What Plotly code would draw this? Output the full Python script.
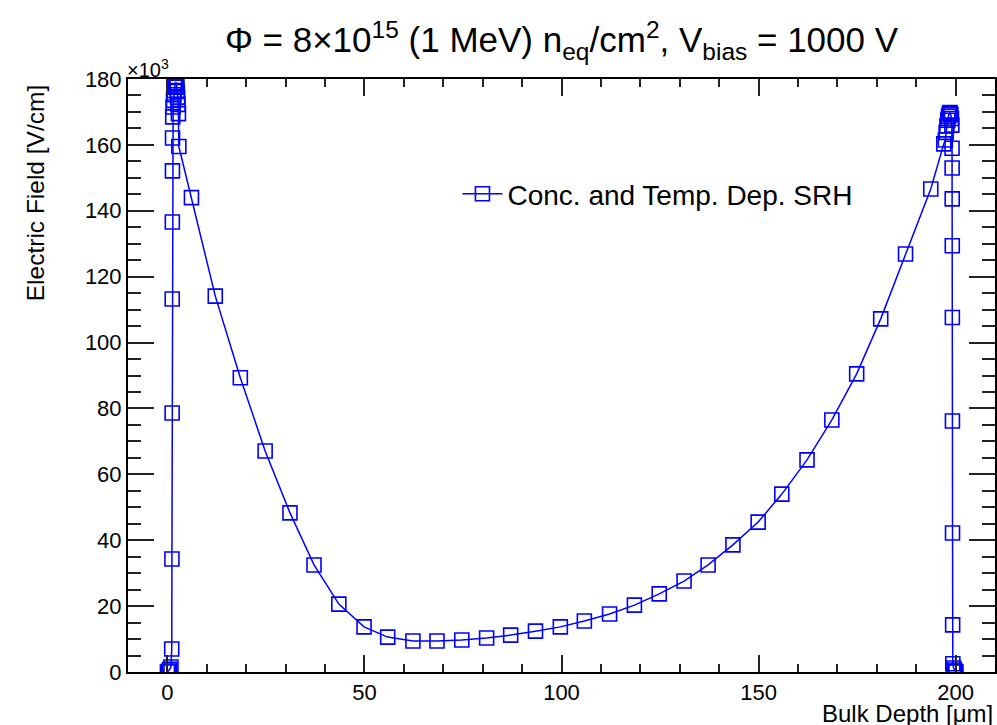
import plotly.graph_objects as go

# Bulk depth [um]
depth = [0.0, 0.3, 0.6, 0.9, 1.1, 1.15, 1.2, 1.22, 1.25, 1.28, 1.3, 1.35,
         1.45, 1.55, 1.65, 1.75, 1.85, 1.95, 2.05, 2.15, 2.3, 2.4, 2.5, 2.6, 2.7, 2.8, 2.9,
         6.1, 12.15, 18.5, 24.8, 31.1, 37.2, 43.5, 49.9, 55.9, 62.3, 68.4, 74.7, 81.0,
         87.1, 93.4, 99.7, 105.8, 112.2, 118.5, 124.8, 131.1, 137.2, 143.5, 149.9, 155.9,
         162.3, 168.6, 174.9, 181.0, 187.3, 193.7, 197.0, 197.4,
         197.6, 197.8, 198.0, 198.2, 198.4, 198.6, 198.8, 198.95, 199.05,
         199.1, 199.12, 199.14, 199.16, 199.18, 199.2, 199.22, 199.25, 199.3,
         199.5, 199.7, 199.9, 200.1]
# Electric field [10^3 V/cm]
efield = [0.0, 0.3, 0.8, 1.5, 7.0, 34.3, 78.6, 113.2, 136.6, 152.1, 162.1, 168.5,
          171.5, 173.5, 175.2, 176.5, 177.5, 178.2, 178.7, 178.9, 178.6, 177.6, 176.2, 174.5, 172.3, 169.5, 159.5,
          144.0, 114.1, 89.3, 67.1, 48.3, 32.5, 20.6, 13.7, 10.6, 9.4, 9.4, 9.7, 10.3,
          11.2, 12.4, 13.7, 15.5, 17.6, 20.3, 23.7, 27.6, 32.5, 38.6, 45.5, 54.0,
          64.4, 76.5, 90.5, 107.2, 126.9, 146.6, 160.3, 161.5,
          163.8, 165.8, 167.5, 168.7, 169.5, 169.8, 169.2, 168.0, 166.0,
          159.0, 153.0, 143.6, 129.4, 107.6, 76.2, 42.2, 14.3, 2.5,
          1.2, 0.6, 0.2, 0.0]

x_ticks = [0, 50, 100, 150, 200]
y_ticks = [0, 20, 40, 60, 80, 100, 120, 140, 160, 180]

FONT = "Liberation Sans, Arial, Helvetica, sans-serif"
BLUE = "#0000ff"

fig = go.Figure()
fig.add_trace(go.Scatter(
    x=depth, y=efield, mode="lines+markers",
    name="Conc. and Temp. Dep. SRH",
    line=dict(color=BLUE, width=1.5),
    marker=dict(symbol="square-open", size=14, color=BLUE, line=dict(color=BLUE, width=1.6)),
))

axis_common = dict(
    showline=True, linecolor="black", linewidth=2, mirror="ticks",
    ticks="inside", tickcolor="#222", tickwidth=2,
    showgrid=False, zeroline=False,
    tickfont=dict(family=FONT, size=22, color="black"),
)

fig.update_xaxes(
    range=[-10, 210], tickvals=x_ticks, ticklen=17,
    minor=dict(ticks="inside", dtick=10, ticklen=8, tickcolor="#222", tickwidth=2, showgrid=False),
    **axis_common,
)
fig.update_yaxes(
    range=[0, 180], tickvals=y_ticks, ticklen=26,
    minor=dict(ticks="inside", dtick=5, ticklen=13, tickcolor="#222", tickwidth=2, showgrid=False),
    **axis_common,
)

fig.update_layout(
    width=997, height=725,
    margin=dict(l=128, r=0, t=79, b=53),
    paper_bgcolor="white", plot_bgcolor="white",
    font=dict(family=FONT, color="black"),
    title=dict(
        text="Φ = 8×10<sup>15</sup> (1 MeV) n<sub>eq</sub>/cm<sup>2</sup>, V<sub>bias</sub> = 1000 V",
        x=0.5, xref="paper", xanchor="center",
        y=1 - 40 / 725, yref="container", yanchor="middle",
        font=dict(family=FONT, size=35, color="black"),
    ),
    showlegend=True,
    legend=dict(
        x=0.38, y=0.806, xanchor="left", yanchor="middle",
        bgcolor="rgba(0,0,0,0)", borderwidth=0,
        font=dict(family=FONT, size=28, color="black"),
        itemwidth=40,
    ),
    annotations=[
        dict(text="×10<sup>3</sup>", xref="paper", yref="paper", x=-0.004, y=1,
             xanchor="left", yanchor="bottom", yshift=-4, showarrow=False,
             font=dict(family=FONT, size=20, color="black")),
        dict(text="Bulk Depth [μm]", xref="paper", yref="paper", x=1.0, y=0,
             xanchor="right", yanchor="top", yshift=-26, showarrow=False,
             font=dict(family=FONT, size=24, color="black")),
        dict(text="Electric Field [V/cm]", xref="paper", yref="paper", x=-0.107, y=1,
             xanchor="center", yanchor="top", yshift=-4, textangle=-90, showarrow=False,
             font=dict(family=FONT, size=24.5, color="black")),
    ],
)

fig.write_html("out.html")
